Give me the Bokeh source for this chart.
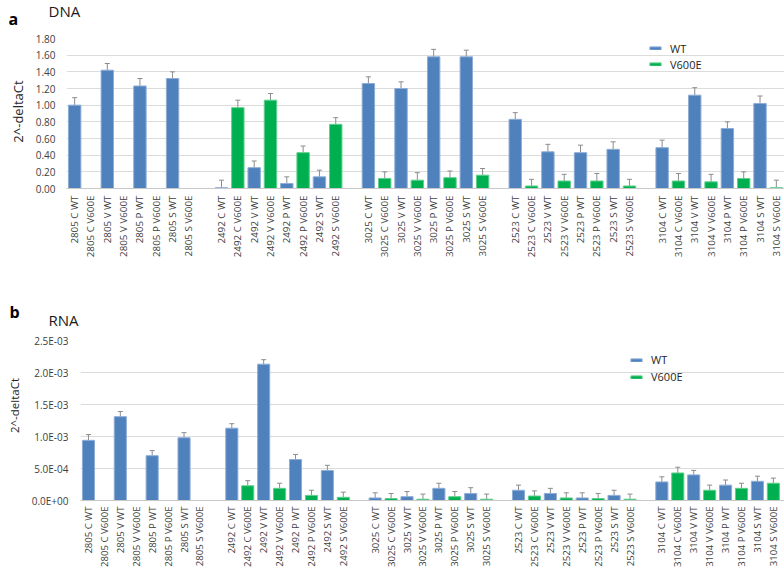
from bokeh.plotting import figure
from bokeh.models import (ColumnDataSource, Whisker, TeeHead, FixedTicker, Label,
                          Legend, LegendItem, Range1d)
from bokeh.layouts import column
from bokeh.embed import file_html
from bokeh.resources import INLINE

# ---------------- data ----------------
samples = ["2805", "2492", "3025", "2523", "3104"]
conditions = ["C WT", "C V600E", "V WT", "V V600E", "P WT", "P V600E", "S WT", "S V600E"]
categories = []
for gi, s in enumerate(samples):
    if gi:
        categories.append("")          # blank slot between sample groups
    for c in conditions:
        categories.append(f"{s} {c}")

dna_values = [1.00, 0.00, 1.42, 0.00, 1.23, 0.00, 1.32, 0.00,
              0.01, 0.97, 0.25, 1.06, 0.06, 0.43, 0.14, 0.77,
              1.26, 0.12, 1.20, 0.10, 1.58, 0.13, 1.58, 0.16,
              0.83, 0.03, 0.44, 0.09, 0.43, 0.09, 0.47, 0.03,
              0.49, 0.09, 1.12, 0.08, 0.72, 0.12, 1.02, 0.01]
dna_errors = [0.09, 0.00, 0.08, 0.00, 0.09, 0.00, 0.08, 0.00,
              0.09, 0.09, 0.08, 0.08, 0.08, 0.08, 0.08, 0.08,
              0.08, 0.08, 0.08, 0.09, 0.09, 0.08, 0.08, 0.08,
              0.08, 0.08, 0.09, 0.08, 0.09, 0.09, 0.09, 0.08,
              0.09, 0.09, 0.09, 0.09, 0.08, 0.08, 0.09, 0.09]

rna_values = [9.4e-4, 0.0, 1.31e-3, 0.0, 7.0e-4, 0.0, 9.8e-4, 0.0,
              1.13e-3, 2.3e-4, 2.13e-3, 1.9e-4, 6.4e-4, 8e-5, 4.7e-4, 5e-5,
              4e-5, 3e-5, 6e-5, 2e-5, 1.9e-4, 6e-5, 1.1e-4, 2e-5,
              1.6e-4, 7e-5, 1.1e-4, 4e-5, 4e-5, 3e-5, 8e-5, 2e-5,
              2.9e-4, 4.3e-4, 4.0e-4, 1.6e-4, 2.4e-4, 1.9e-4, 3.0e-4, 2.7e-4]
rna_errors = [9e-5, 0.0, 8e-5, 0.0, 8e-5, 0.0, 8e-5, 0.0,
              7e-5, 8e-5, 7e-5, 8e-5, 8e-5, 8e-5, 8e-5, 8e-5,
              8e-5, 8e-5, 8e-5, 8e-5, 8e-5, 8e-5, 9e-5, 8e-5,
              8e-5, 8e-5, 8e-5, 8e-5, 8e-5, 8e-5, 8e-5, 8e-5,
              8e-5, 9e-5, 7e-5, 8e-5, 8e-5, 8e-5, 8e-5, 8e-5]

dna_ticks = [0.0, 0.2, 0.4, 0.6, 0.8, 1.0, 1.2, 1.4, 1.6, 1.8]
dna_tick_labels = ["0.00", "0.20", "0.40", "0.60", "0.80", "1.00", "1.20", "1.40", "1.60", "1.80"]
rna_ticks = [0.0, 5e-4, 1e-3, 1.5e-3, 2e-3, 2.5e-3]
rna_tick_labels = ["0.0E+00", "5.0E-04", "1.0E-03", "1.5E-03", "2.0E-03", "2.5E-03"]

legend_labels = ["WT", "V600E"]
y_title = "2^-deltaCt"

# ---------------- style ----------------
BLUE = "#4F81BD"
BLUE_EDGE = "#8EADD6"
GREEN = "#00B050"
GREEN_EDGE = "#5FCF8C"
ERR = "#8C8C8C"
GRID = "#DCDCDC"
TXT = "#404040"
FONT = "Open Sans"
W = 784
X0 = -0.5


def tag_label(x, y, text, units):
    return Label(x=x, y=y, x_units=units, y_units=units, text=text, text_font=FONT,
                 text_font_size="16px", text_font_style="bold", text_color="black",
                 text_baseline="middle", text_align="left")


def title_label(x, y, text, units):
    return Label(x=x, y=y, x_units=units, y_units=units, text=text, text_font=FONT,
                 text_font_size="15px", text_color="#1A1A1A",
                 text_baseline="middle", text_align="left")


def make_panel(values, errors, ticks, tick_labels, y_max, x_end, height, b_left, b_top,
               b_bottom, frame_px, ylab_pos, leg_pos, leg_h, cat_font, cat_standoff,
               ylab_font, ytick_standoff, tag=None, title=None, tag_pos=None, title_pos=None):
    fl, fr, ft, fb = frame_px   # expected frame edges in page pixels

    def to_data(px, py):
        return (X0 + (px - fl) * (x_end - X0) / (fr - fl), (fb - py) * y_max / (fb - ft))

    p = figure(width=W, height=height, output_backend="svg", toolbar_location=None,
               x_range=Range1d(X0, x_end), y_range=Range1d(0, y_max),
               min_border_left=b_left, min_border_right=0, min_border_top=b_top,
               min_border_bottom=b_bottom, frame_align=False)
    p.title.visible = False
    p.outline_line_color = None
    p.background_fill_color = "white"
    p.border_fill_color = "white"

    names = [c for c in categories if c]
    xs = [i for i, c in enumerate(categories) if c]
    groups = {"WT": dict(x=[], top=[]), "V600E": dict(x=[], top=[])}
    wx, wl, wu = [], [], []
    for x, n, v, e in zip(xs, names, values, errors):
        key = "WT" if n.endswith("WT") else "V600E"
        if v > 0:
            groups[key]["x"].append(x)
            groups[key]["top"].append(v)
        if e > 0:
            wx.append(x); wl.append(v); wu.append(v + e)

    r_wt = p.vbar(x="x", top="top", width=0.76, fill_color=BLUE, line_color=BLUE_EDGE,
                  line_width=1, source=ColumnDataSource(groups["WT"]))
    r_mu = p.vbar(x="x", top="top", width=0.76, fill_color=GREEN, line_color=GREEN_EDGE,
                  line_width=1, source=ColumnDataSource(groups["V600E"]))
    wsrc = ColumnDataSource(dict(x=wx, lower=wl, upper=wu))
    p.add_layout(Whisker(source=wsrc, base="x", lower="lower", upper="upper",
                         line_color=ERR, line_width=1,
                         upper_head=TeeHead(size=5, line_color=ERR, line_width=1),
                         lower_head=None, level="underlay"))

    # axes
    p.xaxis.ticker = FixedTicker(ticks=xs)
    p.xaxis.major_label_overrides = {x: n for x, n in zip(xs, names)}
    p.xaxis.major_label_orientation = 1.5707963267948966
    p.xaxis.major_label_text_font = FONT
    p.xaxis.major_label_text_font_size = cat_font
    p.xaxis.major_label_text_color = TXT
    p.xaxis.major_label_standoff = cat_standoff
    p.xaxis.major_tick_out = 0
    p.xaxis.major_tick_in = 0
    p.xaxis.minor_tick_out = 0
    p.xaxis.minor_tick_in = 0
    p.xaxis.axis_line_color = "#C8C8C8"

    p.yaxis.ticker = FixedTicker(ticks=ticks)
    p.yaxis.major_label_overrides = {t: l for t, l in zip(ticks, tick_labels)}
    p.yaxis.major_label_text_font = FONT
    p.yaxis.major_label_text_font_size = "10px"
    p.yaxis.major_label_text_color = TXT
    p.yaxis.major_label_standoff = ytick_standoff
    p.yaxis.major_tick_out = 0
    p.yaxis.major_tick_in = 0
    p.yaxis.minor_tick_out = 0
    p.yaxis.minor_tick_in = 0
    p.yaxis.axis_line_color = None

    p.xgrid.grid_line_color = None
    p.ygrid.grid_line_color = GRID
    p.ygrid.ticker = FixedTicker(ticks=ticks)

    # rotated y title, positioned in data space, kept in the left side panel
    lx, ly = to_data(*ylab_pos)
    p.add_layout(Label(x=lx, y=ly, text=y_title, angle=1.5707963267948966,
                       text_font=FONT, text_font_size=ylab_font, text_color="#262626",
                       text_align="center", text_baseline="middle"), "left")
    if tag is not None:
        tx, ty = to_data(*tag_pos)
        p.add_layout(tag_label(tx, ty, tag, "data"), "above")
        hx, hy = to_data(*title_pos)
        p.add_layout(title_label(hx, hy, title, "data"), "above")

    leg = Legend(items=[LegendItem(label=legend_labels[0], renderers=[r_wt]),
                        LegendItem(label=legend_labels[1], renderers=[r_mu])],
                 location=leg_pos, orientation="vertical", padding=0, margin=0, spacing=0,
                 glyph_width=14, glyph_height=4, label_height=leg_h, label_standoff=8,
                 border_line_color=None, background_fill_alpha=0,
                 label_text_font=FONT, label_text_font_size="11px", label_text_color="#262626")
    p.add_layout(leg)
    return p


# header strip for panel a: page rows 0..30 (frame = whole strip, screen units from its bottom-left)
head = figure(width=W, height=30, output_backend="svg", toolbar_location=None,
              x_range=Range1d(0, 1), y_range=Range1d(0, 1),
              x_axis_location=None, y_axis_location=None, min_border=0, frame_align=False)
head.title.visible = False
head.outline_line_color = None
head.xgrid.visible = False
head.ygrid.visible = False
head.add_layout(tag_label(8, 12, "a", "screen"))
head.add_layout(title_label(48, 20, "DNA", "screen"))

# top panel: page rows 30..270, frame page x 66..784, y 38..188
p1 = make_panel(dna_values, dna_errors, dna_ticks, dna_tick_labels, 1.8, 43.5,
                height=240, b_left=66, b_top=8, b_bottom=82,
                frame_px=(66, 784, 38, 188),
                ylab_pos=(17, 111), leg_pos=(582, 116), leg_h=16,
                cat_font="9.8px", cat_standoff=7, ylab_font="13px", ytick_standoff=11)

# bottom panel: page rows 270..573, frame page x 80..784, y 340..500
p2 = make_panel(rna_values, rna_errors, rna_ticks, rna_tick_labels, 2.5e-3, 43.7,
                height=303, b_left=80, b_top=70, b_bottom=73,
                frame_px=(80, 784, 340, 500),
                ylab_pos=(14, 405), leg_pos=(549, 115), leg_h=17,
                cat_font="9.6px", cat_standoff=6, ylab_font="11.5px", ytick_standoff=12,
                tag="b", title="RNA", tag_pos=(9, 311), title_pos=(48, 319))

layout = column(head, p1, p2, spacing=0)
open("out.html", "w").write(file_html(layout, INLINE))
